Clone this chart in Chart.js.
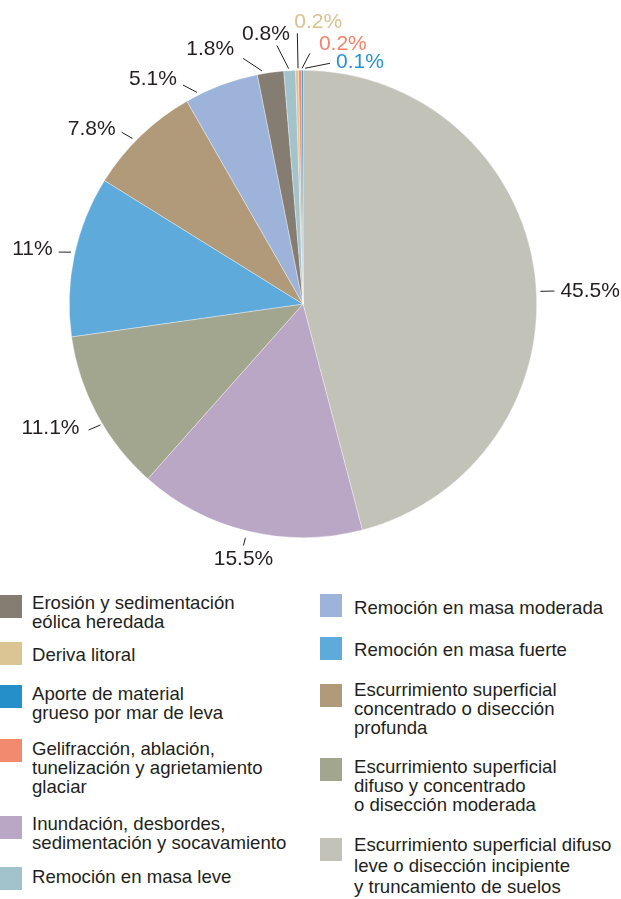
<!DOCTYPE html>
<html>
<head>
<meta charset="utf-8">
<script src="https://cdn.jsdelivr.net/npm/chart.js@4.4.1/dist/chart.umd.min.js"></script>
<style>
  body { margin: 0; background: #fff; font-family: "Liberation Sans", Arial, Helvetica, sans-serif; color: #231f20; }
  #wrap { position: relative; width: 621px; height: 899px; overflow: hidden; }
  #pie { position: absolute; left: 0; top: 0; }
  .sw { position: absolute; width: 22px; height: 23px; }
  .txt { position: absolute; font-size: 18.6px; line-height: 19px; white-space: nowrap; }
</style>
</head>
<body>
<div id="wrap">
  <canvas id="pie" width="621" height="585"></canvas>
  <div id="legend"></div>
</div>
<script>
// slices, clockwise from 12 o'clock
const categories = [
  ['Escurrimiento superficial difuso', 'leve o disección incipiente', 'y truncamiento de suelos'],
  ['Inundación, desbordes,', 'sedimentación y socavamiento'],
  ['Escurrimiento superficial', 'difuso y concentrado', 'o disección moderada'],
  ['Remoción en masa fuerte'],
  ['Escurrimiento superficial', 'concentrado o disección', 'profunda'],
  ['Remoción en masa moderada'],
  ['Erosión y sedimentación', 'eólica heredada'],
  ['Remoción en masa leve'],
  ['Deriva litoral'],
  ['Gelifracción, ablación,', 'tunelización y agrietamiento', 'glaciar'],
  ['Aporte de material', 'grueso por mar de leva']
];
const values = [45.5, 15.5, 11.1, 11, 7.8, 5.1, 1.8, 0.8, 0.2, 0.2, 0.1];
const colors = ['#c2c2b9', '#b9a7c5', '#a3a68e', '#5eaadb', '#b09a79', '#9eb3da',
                '#857d71', '#a2c3cc', '#dcc594', '#f18a6e', '#248fc8'];
const labelColors = ['#231f20', '#231f20', '#231f20', '#231f20', '#231f20', '#231f20',
                     '#231f20', '#231f20', '#d9c28f', '#f0856a', '#2794cf'];

// legend: data index per slot (left column then right column)
const legendOrder = [6, 8, 10, 9, 1, 7, 5, 3, 4, 2, 0];
// [swatchX, swatchY, textX, textTop, lineHeight]
const legendSlots = [
  [0, 595, 32, 593, 19], [0, 642, 32, 645, 19], [0, 685, 32, 684, 19],
  [0, 739, 32, 739, 19], [0, 816, 32, 814, 19], [0, 867, 32, 867, 19],
  [320, 594, 354, 598, 19], [320, 637, 354, 640, 19], [320, 684, 354, 680, 19],
  [320, 758, 354, 757, 19], [320, 838, 354, 834, 21]
];

// leader line / label placement per slice:
// [startShiftDeg, endShiftDeg, startGap, endGap, align, dx, dy]
const labelPlacement = [
  [4.3, 4.4, 4, 18, 'left', 6, 0],
  [0.4, 0.4, 7, 15, 'center', 0, 14],
  [-2.6, -2.2, 2, 15, 'right', -9, -2],
  [0.7, 0.1, 4, 16, 'right', -6, -3],
  [-1.9, -2.6, 4, 16, 'right', -6, -3],
  [-6.1, -8.2, 3, 16, 'right', -6, -6],
  [-2, -5.7, 3, 19, 'right', -9, -9],
  [-0.2, -2.5, 2, 26, 'right', 13, -11],
  [0.25, 0.25, 2, 37, 'left', -3, -11],
  [0.5, 2.3, 2, 17, 'left', 9, -9],
  [0.7, 6.6, 2, 8.5, 'left', 6, -1]
];

const leaderLabels = {
  id: 'leaderLabels',
  afterDatasetsDraw(chart) {
    const ctx = chart.ctx;
    const meta = chart.getDatasetMeta(0);
    const rad = Math.PI / 180;
    ctx.save();
    ctx.font = '21px "Liberation Sans", Arial, sans-serif';
    ctx.textBaseline = 'middle';
    ctx.lineWidth = 1;
    ctx.strokeStyle = '#231f20';
    meta.data.forEach((arc, i) => {
      const p = arc.getProps(['x', 'y', 'startAngle', 'endAngle', 'outerRadius'], true);
      const mid = (p.startAngle + p.endAngle) / 2;
      const [s0, s1, g0, g1, align, dx, dy] = labelPlacement[i];
      const a0 = mid + s0 * rad, a1 = mid + s1 * rad;
      const x0 = p.x + (p.outerRadius + g0) * Math.cos(a0);
      const y0 = p.y + (p.outerRadius + g0) * Math.sin(a0);
      const x1 = p.x + (p.outerRadius + g1) * Math.cos(a1);
      const y1 = p.y + (p.outerRadius + g1) * Math.sin(a1);
      ctx.beginPath();
      ctx.moveTo(x0, y0);
      ctx.lineTo(x1, y1);
      ctx.stroke();
      ctx.fillStyle = labelColors[i];
      ctx.textAlign = align;
      ctx.fillText(values[i] + '%', x1 + dx, y1 + dy);
    });
    ctx.restore();
  }
};

const ctx = document.getElementById('pie').getContext('2d');
const pieChart = new Chart(ctx, {
  type: 'pie',
  data: {
    labels: categories.map(c => c.join(' ')),
    datasets: [{
      data: values,
      backgroundColor: colors,
      borderColor: 'rgba(255,255,255,0.7)',
      borderWidth: 0.5,
      hoverOffset: 0
    }]
  },
  options: {
    responsive: false,
    animation: false,
    devicePixelRatio: 1,
    layout: { padding: { left: 69, right: 84, top: 70, bottom: 47 } },
    plugins: {
      legend: { display: false },
      tooltip: { enabled: false }
    }
  },
  plugins: [leaderLabels]
});

// HTML legend
const legend = document.getElementById('legend');
legendOrder.forEach((idx, k) => {
  const [sx, sy, tx, ty, lh] = legendSlots[k];
  const sw = document.createElement('div');
  sw.className = 'sw';
  sw.style.left = sx + 'px';
  sw.style.top = sy + 'px';
  sw.style.background = colors[idx];
  legend.appendChild(sw);
  const t = document.createElement('div');
  t.className = 'txt';
  t.style.left = tx + 'px';
  t.style.top = ty + 'px';
  t.style.lineHeight = lh + 'px';
  t.innerHTML = categories[idx].join('<br>');
  legend.appendChild(t);
});
</script>
</body>
</html>
